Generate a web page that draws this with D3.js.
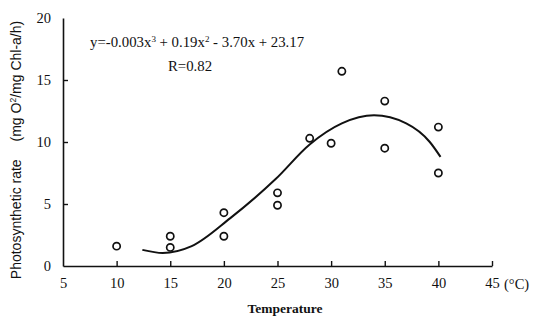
<!DOCTYPE html>
<html>
<head>
<meta charset="utf-8">
<script src="https://cdn.jsdelivr.net/npm/d3@7"></script>
<style>
  body { margin: 0; background: #fff; }
  svg text { font-family: "Liberation Serif", "Times New Roman", serif; fill: #111; }
</style>
</head>
<body>
<svg id="chart" width="541" height="320"></svg>
<script>
// observed points (temperature, rate)
const tempObs = [10, 15, 15, 20, 20, 25, 25, 28, 30, 31, 35, 35, 40, 40];
const rateObs = [1.6, 2.4, 1.5, 4.3, 2.4, 5.9, 4.9, 10.3, 9.9, 15.7, 13.3, 9.5, 11.2, 7.5];

// fitted curve
const fitX = [12.4, 14.3, 17, 20.6, 24.8, 28, 31, 34, 37, 39.2, 40.2];
const fitY = [1.3, 1.05, 1.6, 3.86, 6.99, 9.8, 11.5, 12.15, 11.5, 10.0, 8.8];

const xTicks = [5, 10, 15, 20, 25, 30, 35, 40, 45];
const yTicks = [0, 5, 10, 15, 20];

const svg = d3.select("#chart");
const margin = {top: 18, right: 49, bottom: 54, left: 63};
const width = +svg.attr("width") - margin.left - margin.right;
const height = +svg.attr("height") - margin.top - margin.bottom;

const g = svg.append("g").attr("transform", `translate(${margin.left},${margin.top})`);

const x = d3.scaleLinear().domain([5, 45]).range([0, width]);
const y = d3.scaleLinear().domain([0, 20]).range([height, 0]);

// axes: ticks point inward like the original
const xAxis = g.append("g")
    .attr("transform", `translate(0,${height})`)
    .call(d3.axisBottom(x).tickValues(xTicks).tickSizeInner(-5).tickSizeOuter(0).tickPadding(12));
const yAxis = g.append("g")
    .call(d3.axisLeft(y).tickValues(yTicks).tickSizeInner(-5).tickSizeOuter(0).tickPadding(12));

[xAxis, yAxis].forEach(a => {
  a.select(".domain").attr("stroke", "#111").attr("stroke-width", 1.6);
  a.selectAll(".tick line").attr("stroke", "#111").attr("stroke-width", 1.4);
  a.selectAll(".tick text").style("font-size", "14.5px").attr("fill", "#111");
});
yAxis.selectAll(".tick").filter(d => d === 0 || d === 20).select("line").remove();
xAxis.selectAll(".tick").filter(d => d === 5).select("line").remove();

// unit after the last x tick
g.append("text")
  .attr("x", x(45) + 12)
  .attr("y", height + 23)
  .style("font-size", "14.5px")
  .text("(\u00B0C)");

// fitted curve
const line = d3.line()
  .x((d, i) => x(fitX[i]))
  .y((d, i) => y(fitY[i]))
  .curve(d3.curveMonotoneX);
g.append("path")
  .datum(fitX)
  .attr("d", line)
  .attr("fill", "none")
  .attr("stroke", "#111")
  .attr("stroke-width", 2);

// points
g.selectAll("circle.obs")
  .data(tempObs)
  .join("circle")
  .attr("class", "obs")
  .attr("cx", d => x(d))
  .attr("cy", (d, i) => y(rateObs[i]))
  .attr("r", 3.6)
  .attr("fill", "#fff")
  .attr("stroke", "#111")
  .attr("stroke-width", 1.7);

// equation
const eq = svg.append("text")
  .attr("x", 90)
  .attr("y", 47)
  .style("font-size", "14.8px");
eq.append("tspan").text("y=-0.003x");
eq.append("tspan").attr("dy", -5).style("font-size", "9px").text("3");
eq.append("tspan").attr("dy", 5).text(" + 0.19x");
eq.append("tspan").attr("dy", -5).style("font-size", "9px").text("2");
eq.append("tspan").attr("dy", 5).text(" - 3.70x + 23.17");

svg.append("text")
  .attr("x", 190)
  .attr("y", 71)
  .attr("text-anchor", "middle")
  .style("font-size", "14.8px")
  .text("R=0.82");

// axis titles
svg.append("text")
  .attr("x", 285)
  .attr("y", 313)
  .attr("text-anchor", "middle")
  .style("font-size", "13.5px")
  .style("font-weight", "bold")
  .text("Temperature");

const yt = svg.append("text")
  .attr("transform", "translate(21,150) rotate(-90)")
  .attr("text-anchor", "middle")
  .style("font-family", "'Liberation Sans', Arial, sans-serif")
  .style("font-size", "14px");
yt.append("tspan").text("Photosynthetic rate\u2003 (mg O");
yt.append("tspan").attr("dy", -5).style("font-size", "8.5px").text("2");
yt.append("tspan").attr("dy", 5).text("/mg Chl-a/h)");
</script>
</body>
</html>
